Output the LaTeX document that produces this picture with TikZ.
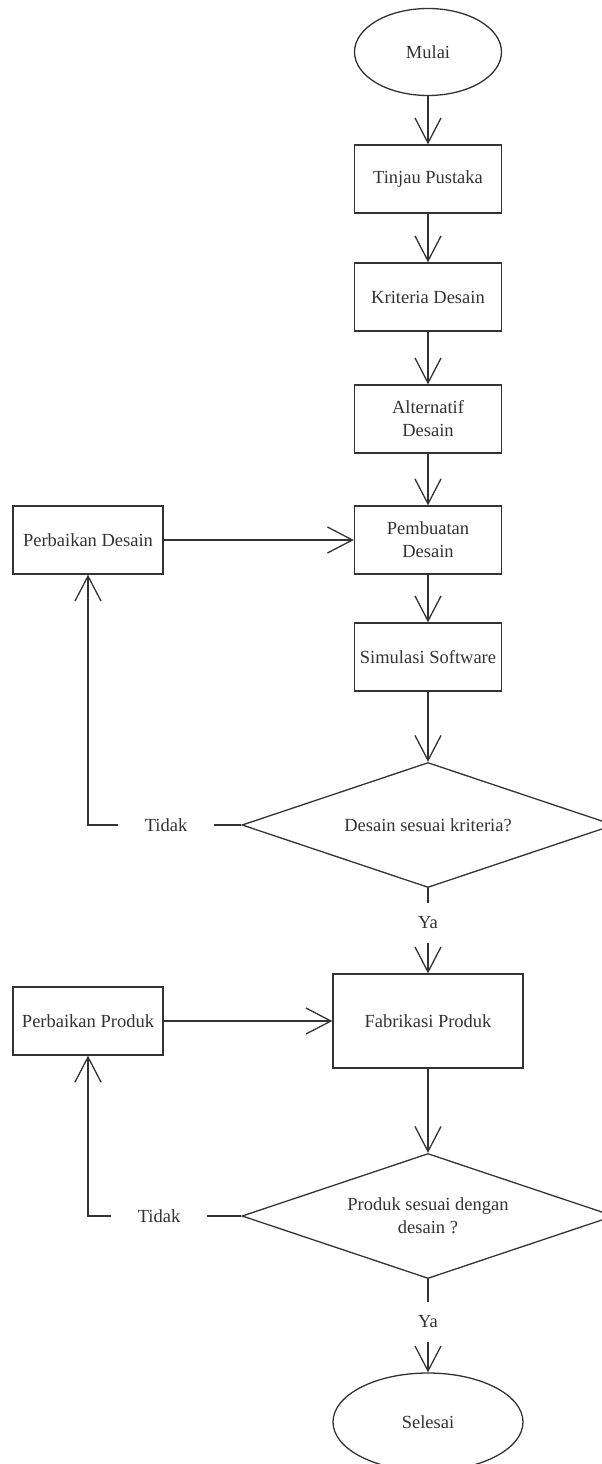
\documentclass[tikz,border=0pt]{standalone}
\usepackage{fontspec}
\setmainfont{Liberation Serif}
\usetikzlibrary{arrows.meta,shapes.geometric}

\begin{document}
\begin{tikzpicture}[x=1pt,y=-1pt,>={Straight Barb[length=25pt,width=26pt]},
  line width=1.3pt,color=black!80,font=\fontsize{18.5}{23}\selectfont,
  box/.style={draw,rectangle,minimum width=147pt,minimum height=68pt,inner sep=2pt,align=center},
  term/.style={draw,ellipse,inner sep=0pt},
  decide/.style={draw,diamond,aspect=3,inner sep=0pt,minimum width=372pt,minimum height=125pt,align=center},
  lbl/.style={inner xsep=26pt,inner ysep=13pt}]
% page is 602 x 1464, origin top left, y grows downwards
\useasboundingbox (0,0) rectangle (602,1464);
\fill[white] (0,0) rectangle (602,1464);
% --- main column ---
\node[term,minimum width=147pt,minimum height=87pt] (mulai) at (428,52) {Mulai};
\node[box] (tinjau) at (428,179) {Tinjau Pustaka};
\node[box] (kriteria) at (428,297) {Kriteria Desain};
\node[box] (alternatif) at (428,419) {Alternatif\\Desain};
\node[box] (pembuatan) at (428,540) {Pembuatan\\Desain};
\node[box] (simulasi) at (428,657) {Simulasi Software};
\node[decide] (cekdesain) at (428,825) {Desain sesuai kriteria?};
\node[lbl] (ya1) at (428,923) {Ya};
\node[box,minimum width=190pt,minimum height=94pt] (fabrikasi) at (428,1021) {Fabrikasi Produk};
\node[decide] (cekproduk) at (428,1216) {Produk sesuai dengan\\desain ?};
\node[lbl] (ya2) at (428,1322) {Ya};
\node[term,minimum width=190pt,minimum height=98pt] (selesai) at (428,1422) {Selesai};
% --- repair loops ---
\node[box,minimum width=150pt] (perbdesain) at (88,540) {Perbaikan Desain};
\node[lbl] (tidak1) at (166,825) {Tidak};
\node[box,minimum width=150pt] (perbproduk) at (88,1021) {Perbaikan Produk};
\node[lbl] (tidak2) at (159,1216) {Tidak};
% --- connectors ---
\draw[->] (mulai) -- (tinjau);
\draw[->] (tinjau) -- (kriteria);
\draw[->] (kriteria) -- (alternatif);
\draw[->] (alternatif) -- (pembuatan);
\draw[->] (pembuatan) -- (simulasi);
\draw[->] (simulasi) -- (cekdesain);
\draw (cekdesain) -- (tidak1);
\draw[->] (tidak1) -| (perbdesain);
\draw[->] (perbdesain) -- (pembuatan);
\draw (cekdesain) -- (ya1);
\draw[->] (ya1) -- (fabrikasi);
\draw[->] (perbproduk) -- (fabrikasi);
\draw[->] (fabrikasi) -- (cekproduk);
\draw (cekproduk) -- (tidak2);
\draw[->] (tidak2) -| (perbproduk);
\draw (cekproduk) -- (ya2);
\draw[->] (ya2) -- (selesai);
\end{tikzpicture}
\end{document}
